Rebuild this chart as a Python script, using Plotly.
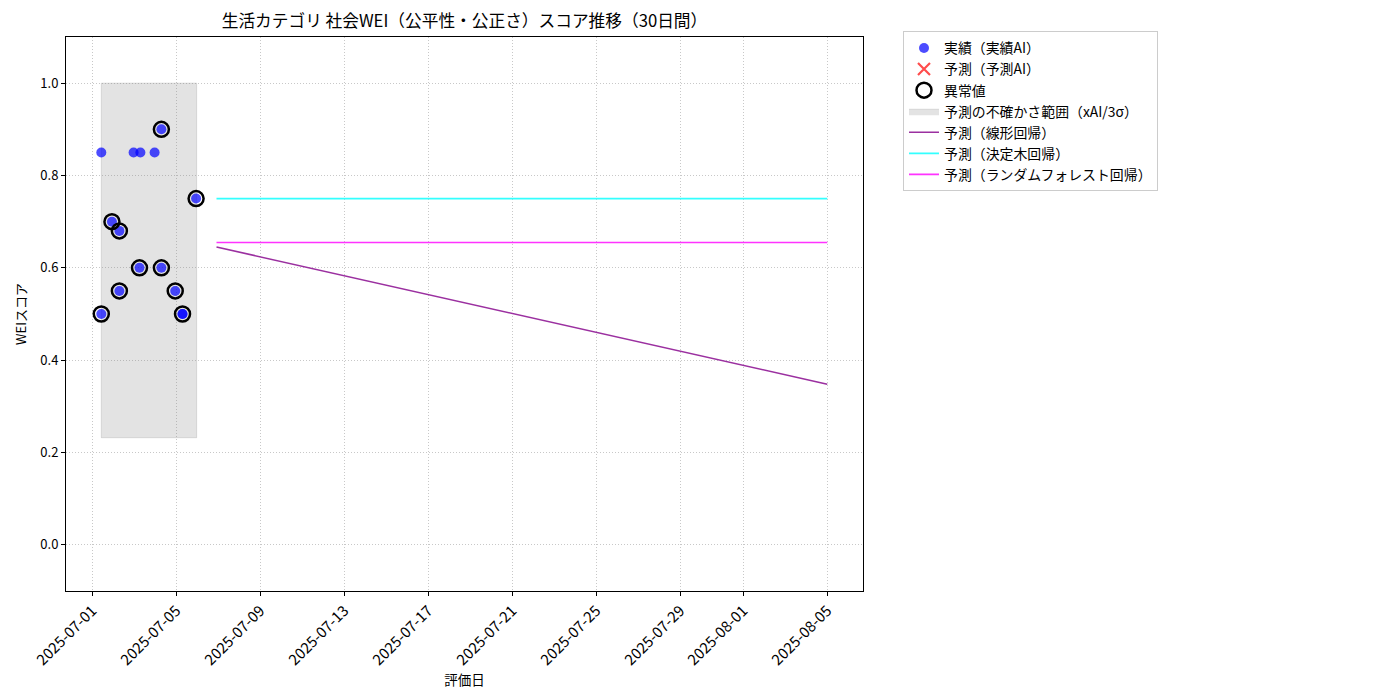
import plotly.graph_objects as go

FONT = "Noto Sans CJK JP"

# Actual values (実績AI)
actual_dates = [
    "2025-07-01 10:20", "2025-07-02 23:15", "2025-07-03 07:00", "2025-07-03 23:15",
    "2025-07-04 07:00", "2025-07-05 22:40", "2025-07-01 22:30", "2025-07-02 07:00",
    "2025-07-03 06:00", "2025-07-04 07:00", "2025-07-02 07:00", "2025-07-04 22:50",
    "2025-07-01 10:20", "2025-07-05 07:10", "2025-07-05 07:10",
]
actual_values = [0.85, 0.85, 0.85, 0.85, 0.90, 0.75, 0.70, 0.68,
                 0.60, 0.60, 0.55, 0.55, 0.50, 0.50, 0.50]

# Outliers (異常値)
outlier_dates = [
    "2025-07-04 07:00", "2025-07-05 22:40", "2025-07-01 22:30", "2025-07-02 07:00",
    "2025-07-03 06:00", "2025-07-04 07:00", "2025-07-02 07:00", "2025-07-04 22:50",
    "2025-07-01 10:20", "2025-07-05 07:10",
]
outlier_values = [0.90, 0.75, 0.70, 0.68, 0.60, 0.60, 0.55, 0.55, 0.50, 0.50]

# Uncertainty band (xAI / 3σ)
band_start = "2025-07-01 10:20"
band_end = "2025-07-05 23:20"
band_low = 0.232
band_high = 1.0

# Forecast lines
forecast_dates = ["2025-07-06 22:00", "2025-08-05"]
linear_values = [0.645, 0.348]
tree_values = [0.75, 0.75]
forest_values = [0.655, 0.655]

tick_dates = ["2025-07-01", "2025-07-05", "2025-07-09", "2025-07-13", "2025-07-17",
              "2025-07-21", "2025-07-25", "2025-07-29", "2025-08-01", "2025-08-05"]

fig = go.Figure()

fig.add_trace(go.Scatter(
    x=[band_start, band_end, band_end, band_start, band_start],
    y=[band_low, band_low, band_high, band_high, band_low],
    fill="toself", fillcolor="rgba(128,128,128,0.22)",
    line=dict(color="rgba(128,128,128,0.22)", width=1),
    mode="lines", name="予測の不確かさ範囲（xAI/3σ）", legendrank=4,
    hoverinfo="skip",
))

fig.add_trace(go.Scatter(
    x=actual_dates, y=actual_values, mode="markers",
    marker=dict(color="rgba(0,0,255,0.7)", size=10),
    name="実績（実績AI）", legendrank=1,
))

fig.add_trace(go.Scatter(
    x=[None], y=[None], mode="markers",
    marker=dict(symbol="x-thin", color="rgba(255,0,0,0.7)", size=12,
                line=dict(color="rgba(255,0,0,0.7)", width=2.2)),
    name="予測（予測AI）", legendrank=2,
))

fig.add_trace(go.Scatter(
    x=outlier_dates, y=outlier_values, mode="markers",
    marker=dict(color="rgba(0,0,0,0)", size=15, line=dict(color="black", width=2.5)),
    name="異常値", legendrank=3,
))

fig.add_trace(go.Scatter(
    x=forecast_dates, y=linear_values, mode="lines",
    line=dict(color="#9b30a0", width=1.6), name="予測（線形回帰）", legendrank=5,
))
fig.add_trace(go.Scatter(
    x=forecast_dates, y=tree_values, mode="lines",
    line=dict(color="#33ffff", width=1.6), name="予測（決定木回帰）", legendrank=6,
))
fig.add_trace(go.Scatter(
    x=forecast_dates, y=forest_values, mode="lines",
    line=dict(color="#ff33ff", width=1.6), name="予測（ランダムフォレスト回帰）", legendrank=7,
))

fig.update_layout(
    width=1400, height=700,
    margin=dict(l=66, r=537, t=37, b=109, autoexpand=False),
    paper_bgcolor="white", plot_bgcolor="white",
    font=dict(family=FONT, size=13, color="black"),
    title=dict(text="生活カテゴリ 社会WEI（公平性・公正さ）スコア推移（30日間）",
               x=(66 + 863) / 2 / 1400, xanchor="center", y=1 - 21 / 700, yanchor="middle",
               font=dict(family=FONT, size=16.7, color="black")),
    showlegend=True,
    legend=dict(x=(903 - 66) / 797, y=1.01, xanchor="left", yanchor="top",
                bordercolor="#cccccc", borderwidth=1, bgcolor="white",
                font=dict(family=FONT, size=13.9), tracegroupgap=0, itemwidth=30),
)

fig.update_xaxes(
    type="date",
    range=["2025-06-29 18:00", "2025-08-06 16:50"],
    tickvals=tick_dates, ticktext=tick_dates, tickangle=-45,
    showline=True, linecolor="black", linewidth=1, mirror=True,
    ticks="outside", ticklen=4, tickcolor="black",
    showgrid=True, gridcolor="#c8c8c8", griddash="1px,2px", gridwidth=1,
    zeroline=False, automargin=False,
    title=dict(text="評価日", font=dict(family=FONT, size=13.5), standoff=0),
    tickfont=dict(family=FONT, size=15),
)
fig.update_yaxes(
    range=[-0.1, 1.1],
    tickvals=[0.0, 0.2, 0.4, 0.6, 0.8, 1.0], tickformat=".1f",
    showline=True, linecolor="black", linewidth=1, mirror=True,
    ticks="outside", ticklen=4, tickcolor="black",
    showgrid=True, gridcolor="#c8c8c8", griddash="1px,2px", gridwidth=1,
    zeroline=False, automargin=False,
    title=dict(text="WEIスコア", font=dict(family=FONT, size=13), standoff=10),
    tickfont=dict(family=FONT, size=13),
)

fig.write_html("out.html", config={"displayModeBar": False},
               post_script="document.body.style.margin='0';document.body.style.padding='0';")
